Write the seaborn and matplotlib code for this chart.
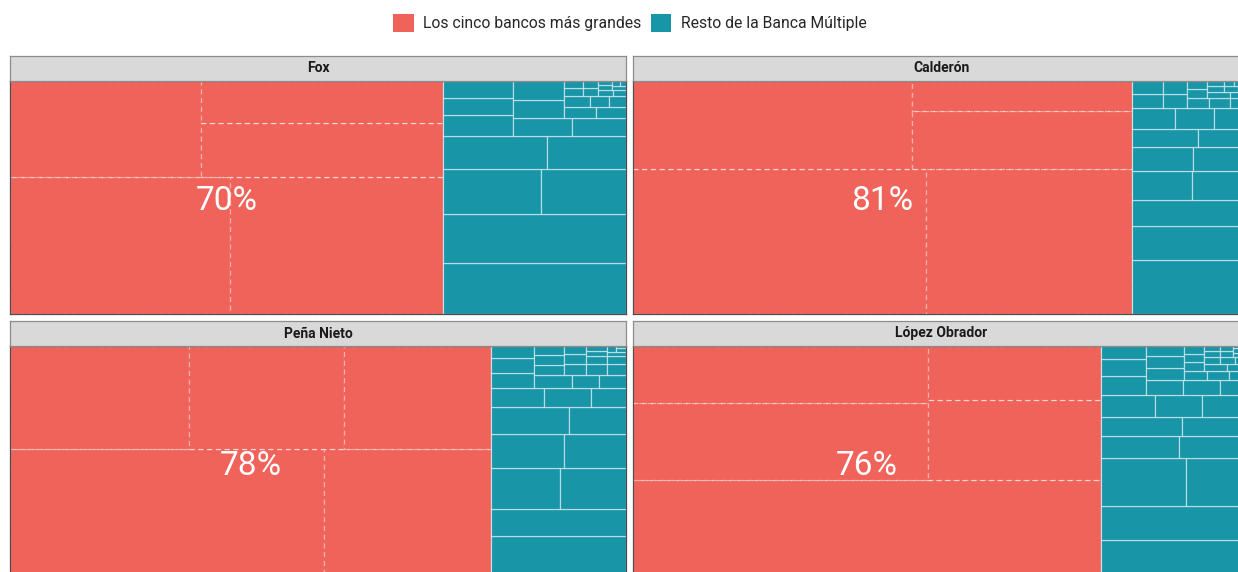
import matplotlib
matplotlib.use("Agg")
import matplotlib.pyplot as plt
from matplotlib.patches import Rectangle, Patch
import seaborn as sns

# Participación en activos (%) por sexenio
periodos = ["Fox", "Calderón", "Peña Nieto", "López Obrador"]

top5_fox = [21.0, 20.3, 12.7, 9.1, 7.0]
resto_fox = [6.50, 6.25, 3.07, 2.66, 2.39, 1.82, 1.04, 0.84, 0.84, 0.73, 0.68, 0.66,
             0.66, 0.26, 0.24, 0.195, 0.14, 0.125, 0.105, 0.09, 0.077, 0.07, 0.063,
             0.056, 0.049, 0.042, 0.035, 0.028, 0.02]

top5_calderon = [29.6, 20.8, 17.1, 8.9, 4.6]
resto_calderon = [4.40, 2.77, 2.12, 1.21, 1.15, 1.02, 0.94, 0.85, 0.65, 0.62, 0.57, 0.51,
                  0.30, 0.28, 0.23, 0.22, 0.153, 0.146, 0.132, 0.125, 0.111, 0.098,
                  0.084, 0.07, 0.063, 0.056, 0.042, 0.035, 0.028, 0.024]

top5_pena = [28.5, 15.2, 12.8, 11.1, 10.5]
resto_pena = [4.04, 2.54, 1.97, 1.89, 1.73, 1.47, 1.47, 1.07, 0.70, 0.62, 0.46, 0.44,
              0.44, 0.35, 0.33, 0.24, 0.23, 0.22, 0.21, 0.19, 0.17, 0.16, 0.15, 0.14,
              0.125, 0.11, 0.098, 0.084, 0.07, 0.056, 0.042, 0.028, 0.014]

top5_amlo = [32.3, 15.8, 11.7, 9.6, 6.5]
resto_amlo = [4.02, 3.51, 2.84, 2.11, 1.20, 1.07, 1.07, 0.89, 0.83, 0.72, 0.71, 0.60,
              0.53, 0.41, 0.39, 0.38, 0.31, 0.31, 0.31, 0.26, 0.15, 0.14, 0.125, 0.122,
              0.115, 0.108, 0.101, 0.094, 0.087, 0.08, 0.073, 0.066, 0.059, 0.052,
              0.045, 0.038, 0.031, 0.024, 0.017, 0.01]

grupos = ["Los cinco bancos más grandes", "Resto de la Banca Múltiple"]
colores = ["#F0635A", "#1995A8"]

datos = {
    "Fox": (top5_fox, resto_fox),
    "Calderón": (top5_calderon, resto_calderon),
    "Peña Nieto": (top5_pena, resto_pena),
    "López Obrador": (top5_amlo, resto_amlo),
}


def worst(row, side):
    s = sum(row)
    return max(max(side ** 2 * r / s ** 2, s ** 2 / (side ** 2 * r)) for r in row)


def squarify(values, x, y, w, h):
    # squarified treemap, rows along the shorter side, from bottom-left
    vals = sorted(values, reverse=True)
    rects = []
    while vals:
        side = min(w, h)
        row = [vals.pop(0)]
        while vals and worst(row + [vals[0]], side) <= worst(row, side):
            row.append(vals.pop(0))
        s = sum(row)
        if w <= h:
            rh = s / w
            cx = x
            for r in row:
                rects.append((cx, y, r / rh, rh))
                cx += r / rh
            y += rh
            h -= rh
        else:
            cw = s / h
            cy = y
            for r in row:
                rects.append((x, cy, cw, r / cw))
                cy += r / cw
            x += cw
            w -= cw
    return rects


sns.set_theme(style="white")
plt.rcParams["font.family"] = ["Roboto", "DejaVu Sans"]

W, H = 1238, 572
fig = plt.figure(figsize=(W / 100, H / 100), dpi=100)

# panel positions in pixels: (left, top of strip)
pos = {"Fox": (10, 56), "Calderón": (633, 56),
       "Peña Nieto": (10, 321), "López Obrador": (633, 321)}
pw, ph, sh = 616, 233, 25

for nombre in periodos:
    top5, resto = datos[nombre]
    total = sum(top5) + sum(resto)
    p = sum(top5) / total
    left, top = pos[nombre]

    ax = fig.add_axes([left / W, 1 - (top + sh + ph) / H, pw / W, ph / H])
    ax.set_xlim(0, 1)
    ax.set_ylim(0, 1)
    ax.set_xticks([])
    ax.set_yticks([])

    for (x, y, w, h) in squarify([v / total for v in top5], 0, 0, p, 1):
        ax.add_patch(Rectangle((x, y), w, h, facecolor=colores[0], edgecolor="none"))
        ax.add_patch(Rectangle((x, y), w, h, fill=False, edgecolor=(1, 1, 1, 0.5),
                               linewidth=0.9, linestyle=(0, (4, 3))))
    for (x, y, w, h) in squarify([v / total for v in resto], p, 0, 1 - p, 1):
        ax.add_patch(Rectangle((x, y), w, h, facecolor=colores[1],
                               edgecolor=(1, 1, 1, 0.5), linewidth=0.9))

    ax.text(p / 2, 0.485, f"{round(sum(top5))}%", color="white", fontsize=24,
            ha="center", va="center")
    for s in ax.spines.values():
        s.set_color("#4d4d4d")
        s.set_linewidth(0.9)

    sax = fig.add_axes([left / W, 1 - (top + sh) / H, pw / W, sh / H])
    sax.set_facecolor("#D9D9D9")
    sax.set_xticks([])
    sax.set_yticks([])
    for s in sax.spines.values():
        s.set_color("#8c8c8c")
        s.set_linewidth(0.9)
    sax.text(0.5, 0.5, nombre, ha="center", va="center", fontsize=10,
             fontweight="bold", color="#1a1a1a")

handles = [Patch(facecolor=c, edgecolor="none") for c in colores]
fig.legend(handles, grupos, loc="center", bbox_to_anchor=(630 / W, 1 - 23 / H), ncol=2,
           frameon=False, fontsize=11.3, handlelength=1.3, handleheight=1.3,
           handletextpad=0.6, columnspacing=0.6)

fig.savefig("out.png", dpi=100)
